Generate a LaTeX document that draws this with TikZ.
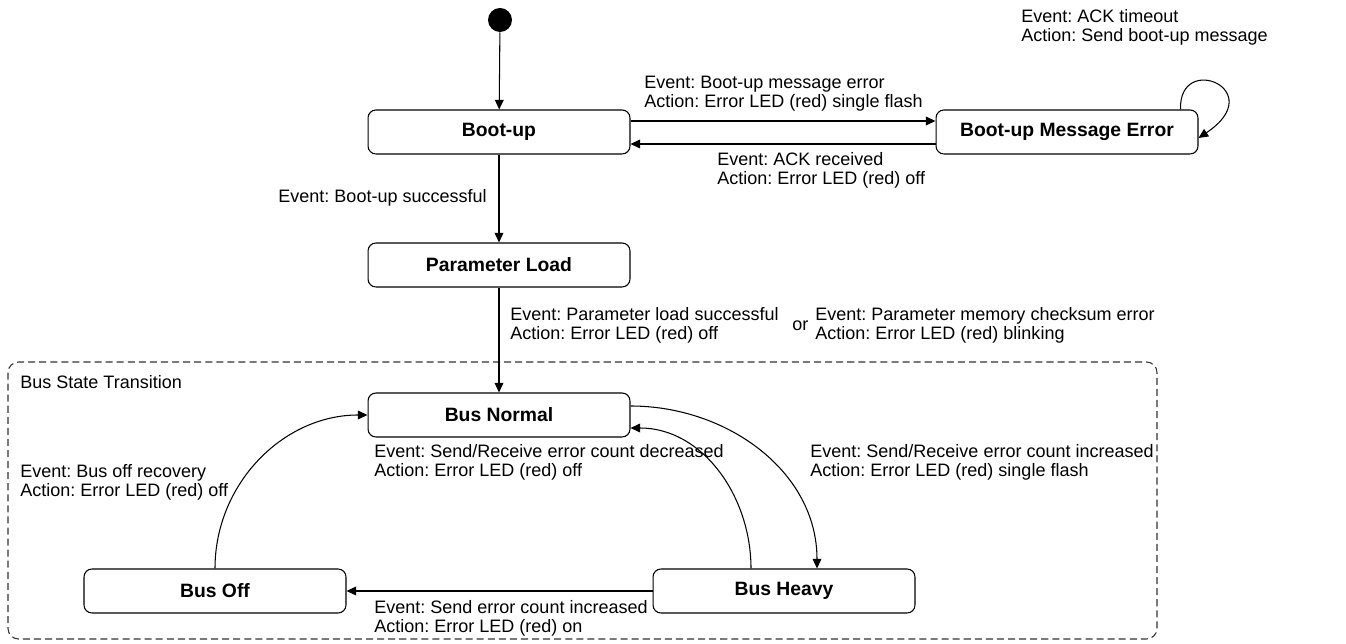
\documentclass[tikz,border=0pt]{standalone}
\usepackage{fontspec}
\setmainfont{Liberation Sans}
\usetikzlibrary{positioning, arrows.meta, calc}
\frenchspacing

\newcommand{\evt}[2]{Event: #1\\Action: #2}

\begin{document}
\begin{tikzpicture}[x=0.02cm, y=-0.02cm,
    state/.style={draw, rounded corners=4.5pt, line width=0.6pt, minimum width=5.24cm, minimum height=0.88cm, font=\fontsize{11}{13}\selectfont\bfseries},
    lbl/.style={align=left, inner sep=0pt, font=\fontsize{10.25}{10.8}\selectfont},
    tr/.style={line width=0.6pt, -{Triangle[length=5.5pt, width=5pt]}}]
  \useasboundingbox (0,0) rectangle (1346,644);

  \node[circle, fill=black, minimum size=0.48cm, inner sep=0pt] (init) at (500,20) {};
  \node[state] (boot) at (499,132) {Boot-up};
  \node[state] (bme) at (1067,132) {Boot-up Message Error};
  \node[state] (param) at (499,265) {Parameter Load};
  \node[state] (normal) at (499,415) {Bus Normal};
  \node[state] (off) at (215,591) {Bus Off};
  \node[state] (heavy) at (784,591) {Bus Heavy};

  % Bus state region
  \draw[black!80, line width=0.6pt, dash pattern=on 4pt off 2.3pt, rounded corners=6pt] (8,362) rectangle (1157,639);
  \node[lbl, anchor=west] (region) at (20,382) {Bus State Transition};

  \draw[tr] (init) -- (boot);
  \draw[tr] ($(boot.east)+(0,-11)$) -- ($(bme.west)+(0,-11)$);
  \draw[tr] ($(bme.west)+(0,12)$) -- ($(boot.east)+(0,12)$);
  \draw[tr] ($(bme.north east)+(-18,0)$) .. controls ($(bme.north east)+(-20,-58)$) and ($(bme.east)+(72,-42)$) .. ($(bme.east)+(0,6)$);
  \draw[tr] (boot) -- (param);
  \draw[tr] (param) -- (normal);
  \draw[tr] (heavy) -- (off);
  \draw[tr] (off.north) to[out=90, in=180] (normal.west);
  \draw[tr] ($(heavy.north)+(-33,0)$) to[out=90, in=0] ($(normal.east)+(0,13)$);
  \draw[tr] ($(normal.east)+(0,-9)$) to[out=0, in=90] ($(heavy.north)+(33,0)$);

  % Labels
  \node[lbl, anchor=west] (l-bme) at (644,93.5) {\evt{Boot-up message error}{Error LED (red) single flash}};
  \node[lbl, anchor=west] (l-ack) at (717,170) {\evt{ACK received}{Error LED (red) off}};
  \node[lbl, anchor=west] (l-tmo) at (1021,27) {\evt{ACK timeout}{Send boot-up message}};
  \node[lbl, anchor=east] (l-ok) at (487,198) {Event: Boot-up successful};
  \node[lbl, anchor=west] (l-load) at (510,325.5) {\evt{Parameter load successful}{Error LED (red) off}};
  \node[lbl, right=0.26cm of l-load] (l-or) {or};
  \node[lbl, anchor=west] (l-chk) at (815,325.5) {\evt{Parameter memory checksum error}{Error LED (red) blinking}};
  \node[lbl, anchor=west] (l-rec) at (20,482) {\evt{Bus off recovery}{Error LED (red) off}};
  \node[lbl, anchor=west] (l-dec) at (374,462) {\evt{Send/Receive error count decreased}{Error LED (red) off}};
  \node[lbl, anchor=west] (l-inc) at (810,462) {\evt{Send/Receive error count increased}{Error LED (red) single flash}};
  \node[lbl, anchor=west] (l-snd) at (374,618) {\evt{Send error count increased}{Error LED (red) on}};
\end{tikzpicture}
\end{document}
